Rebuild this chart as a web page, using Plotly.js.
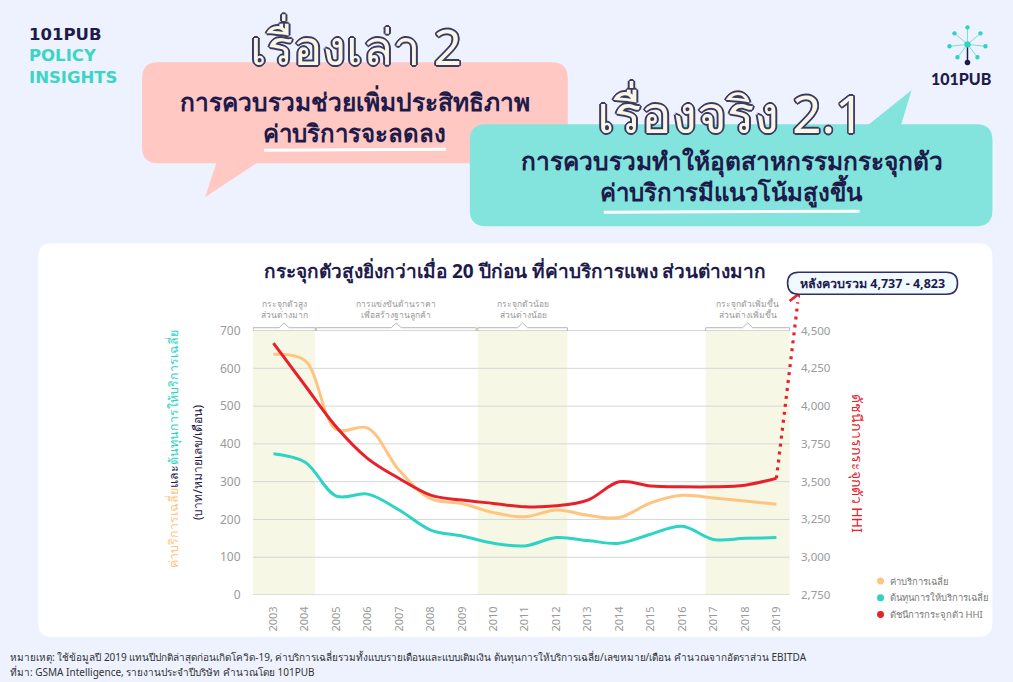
<!DOCTYPE html>
<html><head><meta charset="utf-8">
<script src="https://cdn.plot.ly/plotly-3.0.1.min.js"></script>
<style>html,body{margin:0;padding:0;background:#EDF2FE;} #chart{width:1013px;height:682px;}</style>
</head><body><div id="chart"></div>
<script>
// ---------- DATA ----------
const years = [2003,2004,2005,2006,2007,2008,2009,2010,2011,2012,2013,2014,2015,2016,2017,2018,2019];
const avgPrice = [637,621,438,442,330,255,242,218,207,225,211,205,244,264,257,249,240];
const avgCost  = [374,352,262,267,225,172,156,137,130,152,144,137,161,182,147,150,152];
const hhi      = [4417,4138,3862,3653,3521,3411,3378,3356,3334,3340,3378,3499,3472,3466,3466,3477,3522];
const hhiAfterMerger = [4737, 4823];
const seriesNames = ['ค่าบริการเฉลี่ย','ต้นทุนการให้บริการเฉลี่ย','ดัชนีการกระจุกตัว HHI'];
const periodStart = [2002.35, 2004.36, 2009.5, 2016.75];
const periodEnd   = [2004.33, 2009.45, 2012.35, 2019.42];
const periodShaded = [true, false, true, true];
const periodLabel = ['กระจุกตัวสูง<br>ส่วนต่างมาก','การแข่งขันด้านราคา<br>เพื่อสร้างฐานลูกค้า','กระจุกตัวน้อย<br>ส่วนต่างน้อย','กระจุกตัวเพิ่มขึ้น<br>ส่วนต่างเพิ่มขึ้น'];
const leftTicks = [0,100,200,300,400,500,600,700];
const rightTicks = [2750,3000,3250,3500,3750,4000,4250,4500];

// ---------- STYLE / GEOMETRY ----------
const W = 1013, H = 682;
const PL = 253, PB = 595, PPU = 0.378;          // px per left-axis unit
const XMIN = 2002.35, XMAX = 2019.75, PXY = 31.46;
const YMAX = 810;
const PR = PL + (XMAX - XMIN) * PXY;
const PT = PB - YMAX * PPU;
const fx = x => (x - PL) / (PR - PL);
const fy = y => (PB - y) / (PB - PT);
const P = (x, y) => fx(x).toFixed(5) + ',' + fy(y).toFixed(5);
function rr(x0, y0, x1, y1, r) {
  return `M${P(x0+r,y0)} L${P(x1-r,y0)} Q${P(x1,y0)} ${P(x1,y0+r)} L${P(x1,y1-r)} Q${P(x1,y1)} ${P(x1-r,y1)} L${P(x0+r,y1)} Q${P(x0,y1)} ${P(x0,y1-r)} L${P(x0,y0+r)} Q${P(x0,y0)} ${P(x0+r,y0)} Z`;
}
const NAVY = '#1E1B4B', ORANGE = '#FFC47F', TEAL = '#2DD3C5', RED = '#E8202A';
const GRAY = '#9a9a9a', FONT = 'Noto Sans, sans-serif';
const toRight = v => 2750 + v * 2.5;

// ---------- TRACES ----------
const traces = [
  {x: years, y: avgPrice, type: 'scatter', mode: 'lines', name: seriesNames[0], yaxis: 'y',
   line: {color: ORANGE, width: 3, shape: 'spline'}, showlegend: false},
  {x: years, y: avgCost, type: 'scatter', mode: 'lines', name: seriesNames[1], yaxis: 'y',
   line: {color: TEAL, width: 3, shape: 'spline'}, showlegend: false},
  {x: years, y: hhi, type: 'scatter', mode: 'lines', name: seriesNames[2], yaxis: 'y2',
   line: {color: RED, width: 3, shape: 'spline'}, showlegend: false},
  {x: [years[years.length-1], years[years.length-1] + 0.68], y: [hhi[hhi.length-1], hhiAfterMerger[0] - 50],
   type: 'scatter', mode: 'lines', yaxis: 'y2', showlegend: false,
   line: {color: RED, width: 3.2, dash: '3px,5px'}}
];

// ---------- SHAPES ----------
const shapes = [];
shapes.push({type:'path', xref:'paper', yref:'paper', path: rr(38,243,993,637,14), fillcolor:'#ffffff', line:{width:0}, layer:'below'});
shapes.push({type:'path', xref:'paper', yref:'paper', path: rr(142,62,568,163,16), fillcolor:'#FFC8C3', line:{width:0}, layer:'below'});
shapes.push({type:'path', xref:'paper', yref:'paper', path: `M${P(218,158)} L${P(205,197)} L${P(264,158)} Z`, fillcolor:'#FFC8C3', line:{width:0}, layer:'below'});
shapes.push({type:'path', xref:'paper', yref:'paper', path: rr(470,124,993,226,16), fillcolor:'#82E4DC', line:{width:0}, layer:'below'});
shapes.push({type:'path', xref:'paper', yref:'paper', path: `M${P(862,130)} L${P(912,90)} L${P(900,130)} Z`, fillcolor:'#82E4DC', line:{width:0}, layer:'below'});
shapes.push({type:'path', xref:'paper', yref:'paper', path:`M${P(264,150)} L${P(446,149)}`, line:{color:'#ffffff', width:3}, layer:'below'});
shapes.push({type:'path', xref:'paper', yref:'paper', path:`M${P(604,212)} L${P(860,211)}`, line:{color:'#ffffff', width:3}, layer:'below'});
periodStart.forEach((s, i) => {
  if (periodShaded[i]) shapes.push({type:'rect', xref:'x', yref:'y', x0:s, x1:periodEnd[i], y0:0, y1:700,
    fillcolor:'#F7F7E6', line:{width:0}, layer:'below'});
});
leftTicks.forEach(t => shapes.push({type:'line', xref:'x', yref:'y', x0:XMIN, x1:2019.42, y0:t, y1:t,
  line:{color: t === 0 ? '#c4c4c4' : '#d6d6d6', width:1}, layer:'below'}));
periodStart.forEach((s, i) => {
  const e = periodEnd[i], c = (s + e) / 2;
  shapes.push({type:'path', xref:'x', yref:'y',
    path:`M${s},699 L${s},707.5 L${c-0.16},707.5 L${c},720 L${c+0.16},707.5 L${e},707.5 L${e},699`,
    line:{color:'#b5b5b5', width:1}});
});
{
  const xe = years[years.length-1] + 0.68, ye = hhiAfterMerger[0];
  shapes.push({type:'path', xref:'x', yref:'y2',
    path:`M${xe-0.26},${ye-42} L${xe},${ye} L${xe+0.26},${ye-42}`,
    line:{color:RED, width:2.6}});
}
shapes.push({type:'path', xref:'paper', yref:'paper', path: rr(788,272,958,294,11), fillcolor:'#F1FBFF', line:{color:'#2F2D6B', width:1.6}});
[ORANGE, TEAL, RED].forEach((c, i) => {
  const cy = 581 + i * 16.7;
  shapes.push({type:'circle', xref:'paper', yref:'paper', x0:fx(877.5), x1:fx(884.5), y0:fy(cy+3.5), y1:fy(cy-3.5), fillcolor:c, line:{width:0}});
});
{
  const cx = 968, cy = 44;
  const nodes = [[968,27],[955,33],[981,33],[950,46],[986,46],[958,57],[978,57]];
  nodes.forEach(n => shapes.push({type:'line', xref:'paper', yref:'paper', x0:fx(cx), y0:fy(cy), x1:fx(n[0]), y1:fy(n[1]), line:{color:'#7FDCD3', width:1}}));
  shapes.push({type:'line', xref:'paper', yref:'paper', x0:fx(cx), y0:fy(cy), x1:fx(cx), y1:fy(62), line:{color:NAVY, width:1.5}});
  nodes.forEach(n => shapes.push({type:'circle', xref:'paper', yref:'paper', x0:fx(n[0]-2.2), x1:fx(n[0]+2.2), y0:fy(n[1]+2.2), y1:fy(n[1]-2.2), fillcolor:TEAL, line:{width:0}}));
  shapes.push({type:'circle', xref:'paper', yref:'paper', x0:fx(cx-3.2), x1:fx(cx+3.2), y0:fy(cy+3.2), y1:fy(cy-3.2), fillcolor:TEAL, line:{width:0}});
  shapes.push({type:'circle', xref:'paper', yref:'paper', x0:fx(cx-2.8), x1:fx(cx+2.8), y0:fy(65), y1:fy(59.5), fillcolor:NAVY, line:{width:0}});
}

// ---------- ANNOTATIONS ----------
const ann = [];
const A = (x, y, text, font, extra) => ann.push(Object.assign({xref:'paper', yref:'paper', x:fx(x), y:fy(y), text, showarrow:false, font:Object.assign({family:FONT}, font), xanchor:'center', yanchor:'middle'}, extra || {}));
const outline = c => `-1.4px -1.4px 0 ${c}, 1.4px -1.4px 0 ${c}, -1.4px 1.4px 0 ${c}, 1.4px 1.4px 0 ${c}, 0 1.7px 0 ${c}, 0 -1.7px 0 ${c}, 1.7px 0 0 ${c}, -1.7px 0 0 ${c}`;
A(27, 56, `101PUB<br><span style="color:#3BD5C6">POLICY</span><br><span style="color:#3BD5C6">INSIGHTS</span>`,
  {size:16.5, color:NAVY, weight:700, family:'DejaVu Sans, sans-serif'}, {xanchor:'left', align:'left'});
A(962, 78, '101PUB', {size:16, color:NAVY, weight:900, family:'Lato, sans-serif'});
A(356, 46, 'เรื่องเล่า 2', {size:49, color:'#F8F7E6', shadow: outline('#3D3B63')});
A(355, 101, 'การควบรวมช่วยเพิ่มประสิทธิภาพ', {size:24.5, color:NAVY, weight:700});
A(355, 132, 'ค่าบริการจะลดลง', {size:24, color:NAVY, weight:700});
A(731, 113, 'เรื่องจริง 2.1', {size:51, color:'#F8F7E6', shadow: outline('#3D3B63')});
A(732, 161, 'การควบรวมทำให้อุตสาหกรรมกระจุกตัว', {size:24.5, color:NAVY, weight:700});
A(732, 191, 'ค่าบริการมีแนวโน้มสูงขึ้น', {size:24, color:NAVY, weight:700});
A(516, 271, 'กระจุกตัวสูงยิ่งกว่าเมื่อ 20 ปีก่อน ที่ค่าบริการแพง ส่วนต่างมาก', {size:19, color:NAVY, weight:700});
A(873, 283, 'หลังควบรวม ' + hhiAfterMerger.map(v => v.toLocaleString('en-US')).join(' - '), {size:12.5, color:NAVY, weight:700});
periodStart.forEach((s, i) => ann.push({xref:'x', yref:'paper', x:(s + periodEnd[i]) / 2, y:fy(309), text:periodLabel[i], showarrow:false,
  font:{family:FONT, size:8.5, color:'#9a9a9a'}, xanchor:'center', yanchor:'middle'}));
A(173, 449, `<span style="color:${ORANGE}">ค่าบริการเฉลี่ย</span><span style="color:${NAVY}">และ</span><span style="color:${TEAL}">ต้นทุนการให้บริการเฉลี่ย</span>`, {size:12.5, color:NAVY}, {textangle:-90});
A(197, 462, '(บาท/หมายเลข/เดือน)', {size:12, color:NAVY}, {textangle:-90});
A(858, 463, seriesNames[2], {size:14, color:RED}, {textangle:90});
seriesNames.forEach((n, i) => A(888, 581 + i * 16.7, n, {size:9.5, color:'#7a7a7a'}, {xanchor:'left'}));
A(8, 657, 'หมายเหตุ: ใช้ข้อมูลปี 2019 แทนปีปกติล่าสุดก่อนเกิดโควิด-19, ค่าบริการเฉลี่ยรวมทั้งแบบรายเดือนและแบบเติมเงิน ต้นทุนการให้บริการเฉลี่ย/เลขหมาย/เดือน คำนวณจากอัตราส่วน EBITDA', {size:10, color:'#333'}, {xanchor:'left'});
A(8, 672, 'ที่มา: GSMA Intelligence, รายงานประจำปีบริษัท คำนวณโดย 101PUB', {size:10, color:'#333'}, {xanchor:'left'});

// ---------- LAYOUT ----------
const layout = {
  width: W, height: H,
  margin: {l: PL, r: W - PR, t: PT, b: H - PB, pad: 0},
  paper_bgcolor: '#EDF2FE', plot_bgcolor: 'rgba(0,0,0,0)',
  font: {family: FONT},
  showlegend: false,
  xaxis: {range: [XMIN, XMAX], tickvals: years, ticktext: years.map(String), tickangle: -90,
    showgrid: false, zeroline: false, showline: false, ticks: 'outside', ticklen: 6, tickcolor: 'rgba(0,0,0,0)',
    tickfont: {size: 11, color: GRAY}},
  yaxis: {range: [0, YMAX], tickvals: leftTicks, showgrid: false, zeroline: false, showline: false,
    ticks: 'outside', ticklen: 9, tickcolor: 'rgba(0,0,0,0)', tickfont: {size: 12, color: GRAY}},
  yaxis2: {range: [toRight(0), toRight(YMAX)], overlaying: 'y', side: 'right', tickvals: rightTicks, tickformat: ',',
    showgrid: false, zeroline: false, showline: false, ticks: '', tickfont: {size: 11.5, color: GRAY}},
  shapes, annotations: ann
};
Plotly.newPlot('chart', traces, layout, {displayModeBar: false, staticPlot: true});
</script></body></html>
